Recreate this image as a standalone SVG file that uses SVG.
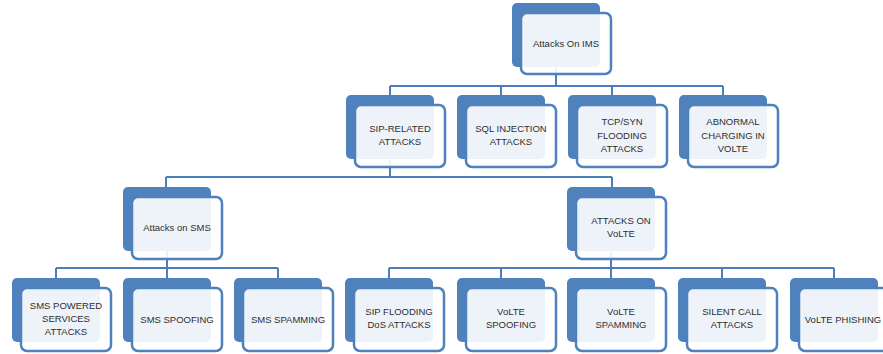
<svg xmlns="http://www.w3.org/2000/svg" width="883" height="354" viewBox="0 0 883 354">
<style>
.back{fill:#4f81bd}
.front{fill:#ffffff;fill-opacity:0.9;stroke:#4f81bd;stroke-width:2.5}
.t{font-family:"Liberation Sans",Arial,sans-serif;font-size:9.5px;fill:#2e2e2e;text-anchor:middle}
.c{fill:none;stroke:#4a7ebb;stroke-width:2}
</style>
<rect width="883" height="354" fill="#ffffff"/>
<g id="connectors">
<path class="c" d="M556 67V86M390 86H723M390 86V95M501 86V95M612 86V95M723 86V95"/>
<path class="c" d="M390 160V177M166 177H612M166 177V187M612 177V187"/>
<path class="c" d="M167 250V268M56 268H278M56 268V278M167 268V278M278 268V278"/>
<path class="c" d="M611 250V268M389 268H834M389 268V278M501 268V278M611 268V278M722 268V278M834 268V278"/>
</g>
<g id="n-ims"><rect class="back" x="512" y="3" width="88" height="64" rx="5"/><rect class="front" x="521" y="13" width="90" height="61" rx="6"/><text class="t" x="566" y="47">Attacks On IMS</text></g>
<g id="n-sip"><rect class="back" x="346" y="95" width="88" height="64" rx="5"/><rect class="front" x="355" y="105" width="90" height="62" rx="6"/><text class="t" x="400" y="132">SIP-RELATED</text><text class="t" x="400" y="145">ATTACKS</text></g>
<g id="n-sql"><rect class="back" x="457" y="95" width="88" height="64" rx="5"/><rect class="front" x="466" y="105" width="90" height="62" rx="6"/><text class="t" x="511" y="132">SQL INJECTION</text><text class="t" x="511" y="145">ATTACKS</text></g>
<g id="n-tcp"><rect class="back" x="568" y="95" width="88" height="64" rx="5"/><rect class="front" x="577" y="105" width="90" height="62" rx="6"/><text class="t" x="622" y="125">TCP/SYN</text><text class="t" x="622" y="139">FLOODING</text><text class="t" x="622" y="152">ATTACKS</text></g>
<g id="n-abn"><rect class="back" x="679" y="95" width="88" height="64" rx="5"/><rect class="front" x="688" y="105" width="90" height="62" rx="6"/><text class="t" x="733" y="125">ABNORMAL</text><text class="t" x="733" y="139">CHARGING IN</text><text class="t" x="733" y="152">VOLTE</text></g>
<g id="n-sms"><rect class="back" x="123" y="187" width="88" height="64" rx="5"/><rect class="front" x="132" y="197" width="90" height="62" rx="6"/><text class="t" x="177" y="231">Attacks on SMS</text></g>
<g id="n-volte"><rect class="back" x="567" y="187" width="88" height="64" rx="5"/><rect class="front" x="576" y="197" width="90" height="62" rx="6"/><text class="t" x="621" y="224">ATTACKS ON</text><text class="t" x="621" y="237">VoLTE</text></g>
<g id="n-smspow"><rect class="back" x="12" y="278" width="88" height="64" rx="5"/><rect class="front" x="21" y="288" width="90" height="63" rx="6"/><text class="t" x="66" y="309">SMS POWERED</text><text class="t" x="66" y="322">SERVICES</text><text class="t" x="66" y="335">ATTACKS</text></g>
<g id="n-smsspoof"><rect class="back" x="123" y="278" width="88" height="64" rx="5"/><rect class="front" x="132" y="288" width="90" height="63" rx="6"/><text class="t" x="177" y="323">SMS SPOOFING</text></g>
<g id="n-smsspam"><rect class="back" x="234" y="278" width="88" height="64" rx="5"/><rect class="front" x="243" y="288" width="90" height="63" rx="6"/><text class="t" x="288" y="323">SMS SPAMMING</text></g>
<g id="n-sipflood"><rect class="back" x="345" y="278" width="88" height="64" rx="5"/><rect class="front" x="354" y="288" width="90" height="63" rx="6"/><text class="t" x="399" y="315">SIP FLOODING</text><text class="t" x="399" y="328">DoS ATTACKS</text></g>
<g id="n-vspoof"><rect class="back" x="457" y="278" width="88" height="64" rx="5"/><rect class="front" x="466" y="288" width="90" height="63" rx="6"/><text class="t" x="511" y="315">VoLTE</text><text class="t" x="511" y="328">SPOOFING</text></g>
<g id="n-vspam"><rect class="back" x="567" y="278" width="88" height="64" rx="5"/><rect class="front" x="576" y="288" width="90" height="63" rx="6"/><text class="t" x="621" y="315">VoLTE</text><text class="t" x="621" y="328">SPAMMING</text></g>
<g id="n-silent"><rect class="back" x="678" y="278" width="88" height="64" rx="5"/><rect class="front" x="687" y="288" width="90" height="63" rx="6"/><text class="t" x="732" y="315">SILENT CALL</text><text class="t" x="732" y="328">ATTACKS</text></g>
<g id="n-vphish"><rect class="back" x="790" y="278" width="88" height="64" rx="5"/><rect class="front" x="799" y="288" width="90" height="63" rx="6"/><text class="t" x="843" y="323">VoLTE PHISHING</text></g>
</svg>
